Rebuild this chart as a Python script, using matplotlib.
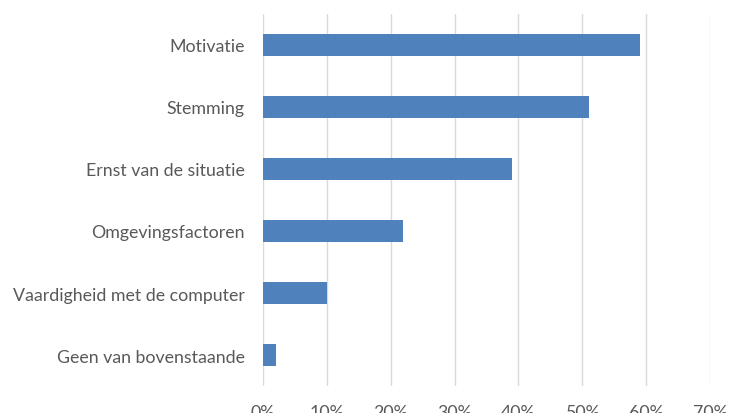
import matplotlib.pyplot as plt
from matplotlib.ticker import PercentFormatter

categories = [
    "Motivatie",
    "Stemming",
    "Ernst van de situatie",
    "Omgevingsfactoren",
    "Vaardigheid met de computer",
    "Geen van bovenstaande",
]
shares = [0.59, 0.51, 0.39, 0.22, 0.10, 0.02]
ticks = [0, 0.1, 0.2, 0.3, 0.4, 0.5, 0.6, 0.7]

plt.rcParams["font.family"] = ["Lato", "DejaVu Sans"]

fig = plt.figure(figsize=(7.31, 4.14), dpi=100)
ax = fig.add_axes([0.3594, 0.0652, 0.6123, 0.8986])

pos = list(range(len(categories)))[::-1]
ax.barh(pos, shares, height=0.355, color="#4F81BD", zorder=3)

ax.set_xlim(0, 0.7)
ax.set_ylim(-0.5, len(categories) - 0.5)
ax.set_xticks(ticks)
ax.xaxis.set_major_formatter(PercentFormatter(1.0, decimals=0))
ax.set_yticks(pos)
ax.set_yticklabels(categories)

ax.grid(axis="x", color="#D9D9D9", linewidth=1, zorder=0)
for s in ax.spines.values():
    s.set_visible(False)
ax.tick_params(axis="y", length=0, pad=13, labelsize=12.8, labelcolor="#595959")
ax.tick_params(axis="x", length=0, pad=13, labelsize=12.8, labelcolor="#595959")

fig.savefig("out.png", dpi=100)
